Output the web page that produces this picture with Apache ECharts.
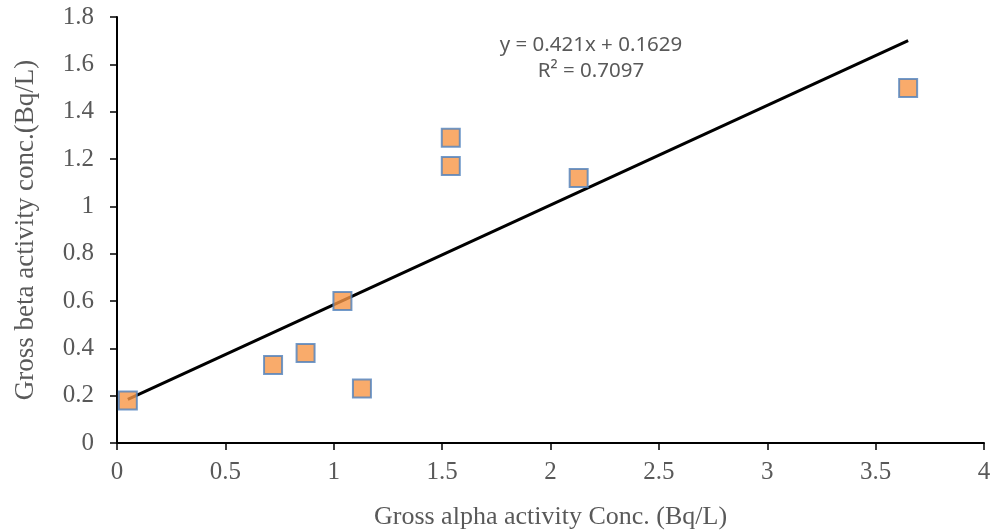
<!DOCTYPE html>
<html>
<head>
<meta charset="utf-8">
<script src="https://cdn.jsdelivr.net/npm/echarts@6/dist/echarts.min.js"></script>
<style>
  html, body { margin: 0; padding: 0; background: #fff; }
  #main { width: 992px; height: 531px; }
</style>
</head>
<body>
<div id="main"></div>
<script>
// 散点数据 (Gross alpha, Gross beta)
const alphaConc = [0.05, 0.72, 0.87, 1.04, 1.13, 1.54, 1.54, 2.13, 3.65]
const betaConc = [0.18, 0.33, 0.38, 0.60, 0.23, 1.29, 1.17, 1.12, 1.50]
// 趋势线端点
const trendX = [0.05, 3.65]
const trendY = [0.184, 1.700]
// 刻度
const xTicks = [0, 0.5, 1, 1.5, 2, 2.5, 3, 3.5, 4]
const yTicks = [0, 0.2, 0.4, 0.6, 0.8, 1, 1.2, 1.4, 1.6, 1.8]
const equationText = ['y = 0.421x + 0.1629', 'R² = 0.7097']

const serif = '"Liberation Serif", "DejaVu Serif", serif'
const grey = '#595959'

const chart = echarts.init(document.getElementById('main'), null, { renderer: 'canvas' })

chart.setOption({
  animation: false,
  grid: { left: 117, right: 8, top: 17, bottom: 88, outerBoundsMode: 'none', containLabel: false },
  xAxis: {
    type: 'value',
    min: xTicks[0],
    max: xTicks[xTicks.length - 1],
    interval: 0.5,
    name: 'Gross alpha activity Conc. (Bq/L)',
    nameLocation: 'middle',
    nameGap: 61,
    nameTextStyle: { fontFamily: serif, fontSize: 26, color: grey },
    axisLine: { show: true, onZero: false, lineStyle: { color: '#000', width: 2 } },
    axisTick: { show: true, inside: false, length: 7, lineStyle: { color: '#000', width: 1.5 } },
    axisLabel: { fontFamily: serif, fontSize: 25, color: grey, margin: 17 },
    splitLine: { show: false }
  },
  yAxis: {
    type: 'value',
    min: yTicks[0],
    max: yTicks[yTicks.length - 1],
    interval: 0.2,
    name: 'Gross beta activity conc.(Bq/L)',
    nameLocation: 'middle',
    nameGap: 78,
    nameTextStyle: { fontFamily: serif, fontSize: 27, color: grey },
    axisLine: { show: true, onZero: false, lineStyle: { color: '#000', width: 2 } },
    axisTick: { show: true, inside: false, length: 7, lineStyle: { color: '#000', width: 1.5 } },
    axisLabel: {
      fontFamily: serif, fontSize: 25, color: grey, margin: 23,
      formatter: v => String(+v.toFixed(1))
    },
    splitLine: { show: false }
  },
  graphic: equationText.map((t, i) => ({
    type: 'text',
    x: 591,
    y: 45 + i * 26,
    style: {
      text: t,
      fontFamily: '"Noto Sans", sans-serif',
      fontSize: 20.5,
      fill: grey,
      align: 'center',
      verticalAlign: 'middle'
    }
  })),
  series: [
    {
      name: 'trend',
      type: 'line',
      data: trendX.map((x, i) => [x, trendY[i]]),
      symbol: 'none',
      lineStyle: { color: '#000', width: 3 },
      z: 2
    },
    {
      name: 'points',
      type: 'scatter',
      data: alphaConc.map((x, i) => [x, betaConc[i]]),
      symbol: 'rect',
      symbolSize: 18,
      itemStyle: { color: '#F79646', borderColor: '#4F81BD', borderWidth: 2 },
      z: 3
    }
  ]
})
</script>
</body>
</html>
